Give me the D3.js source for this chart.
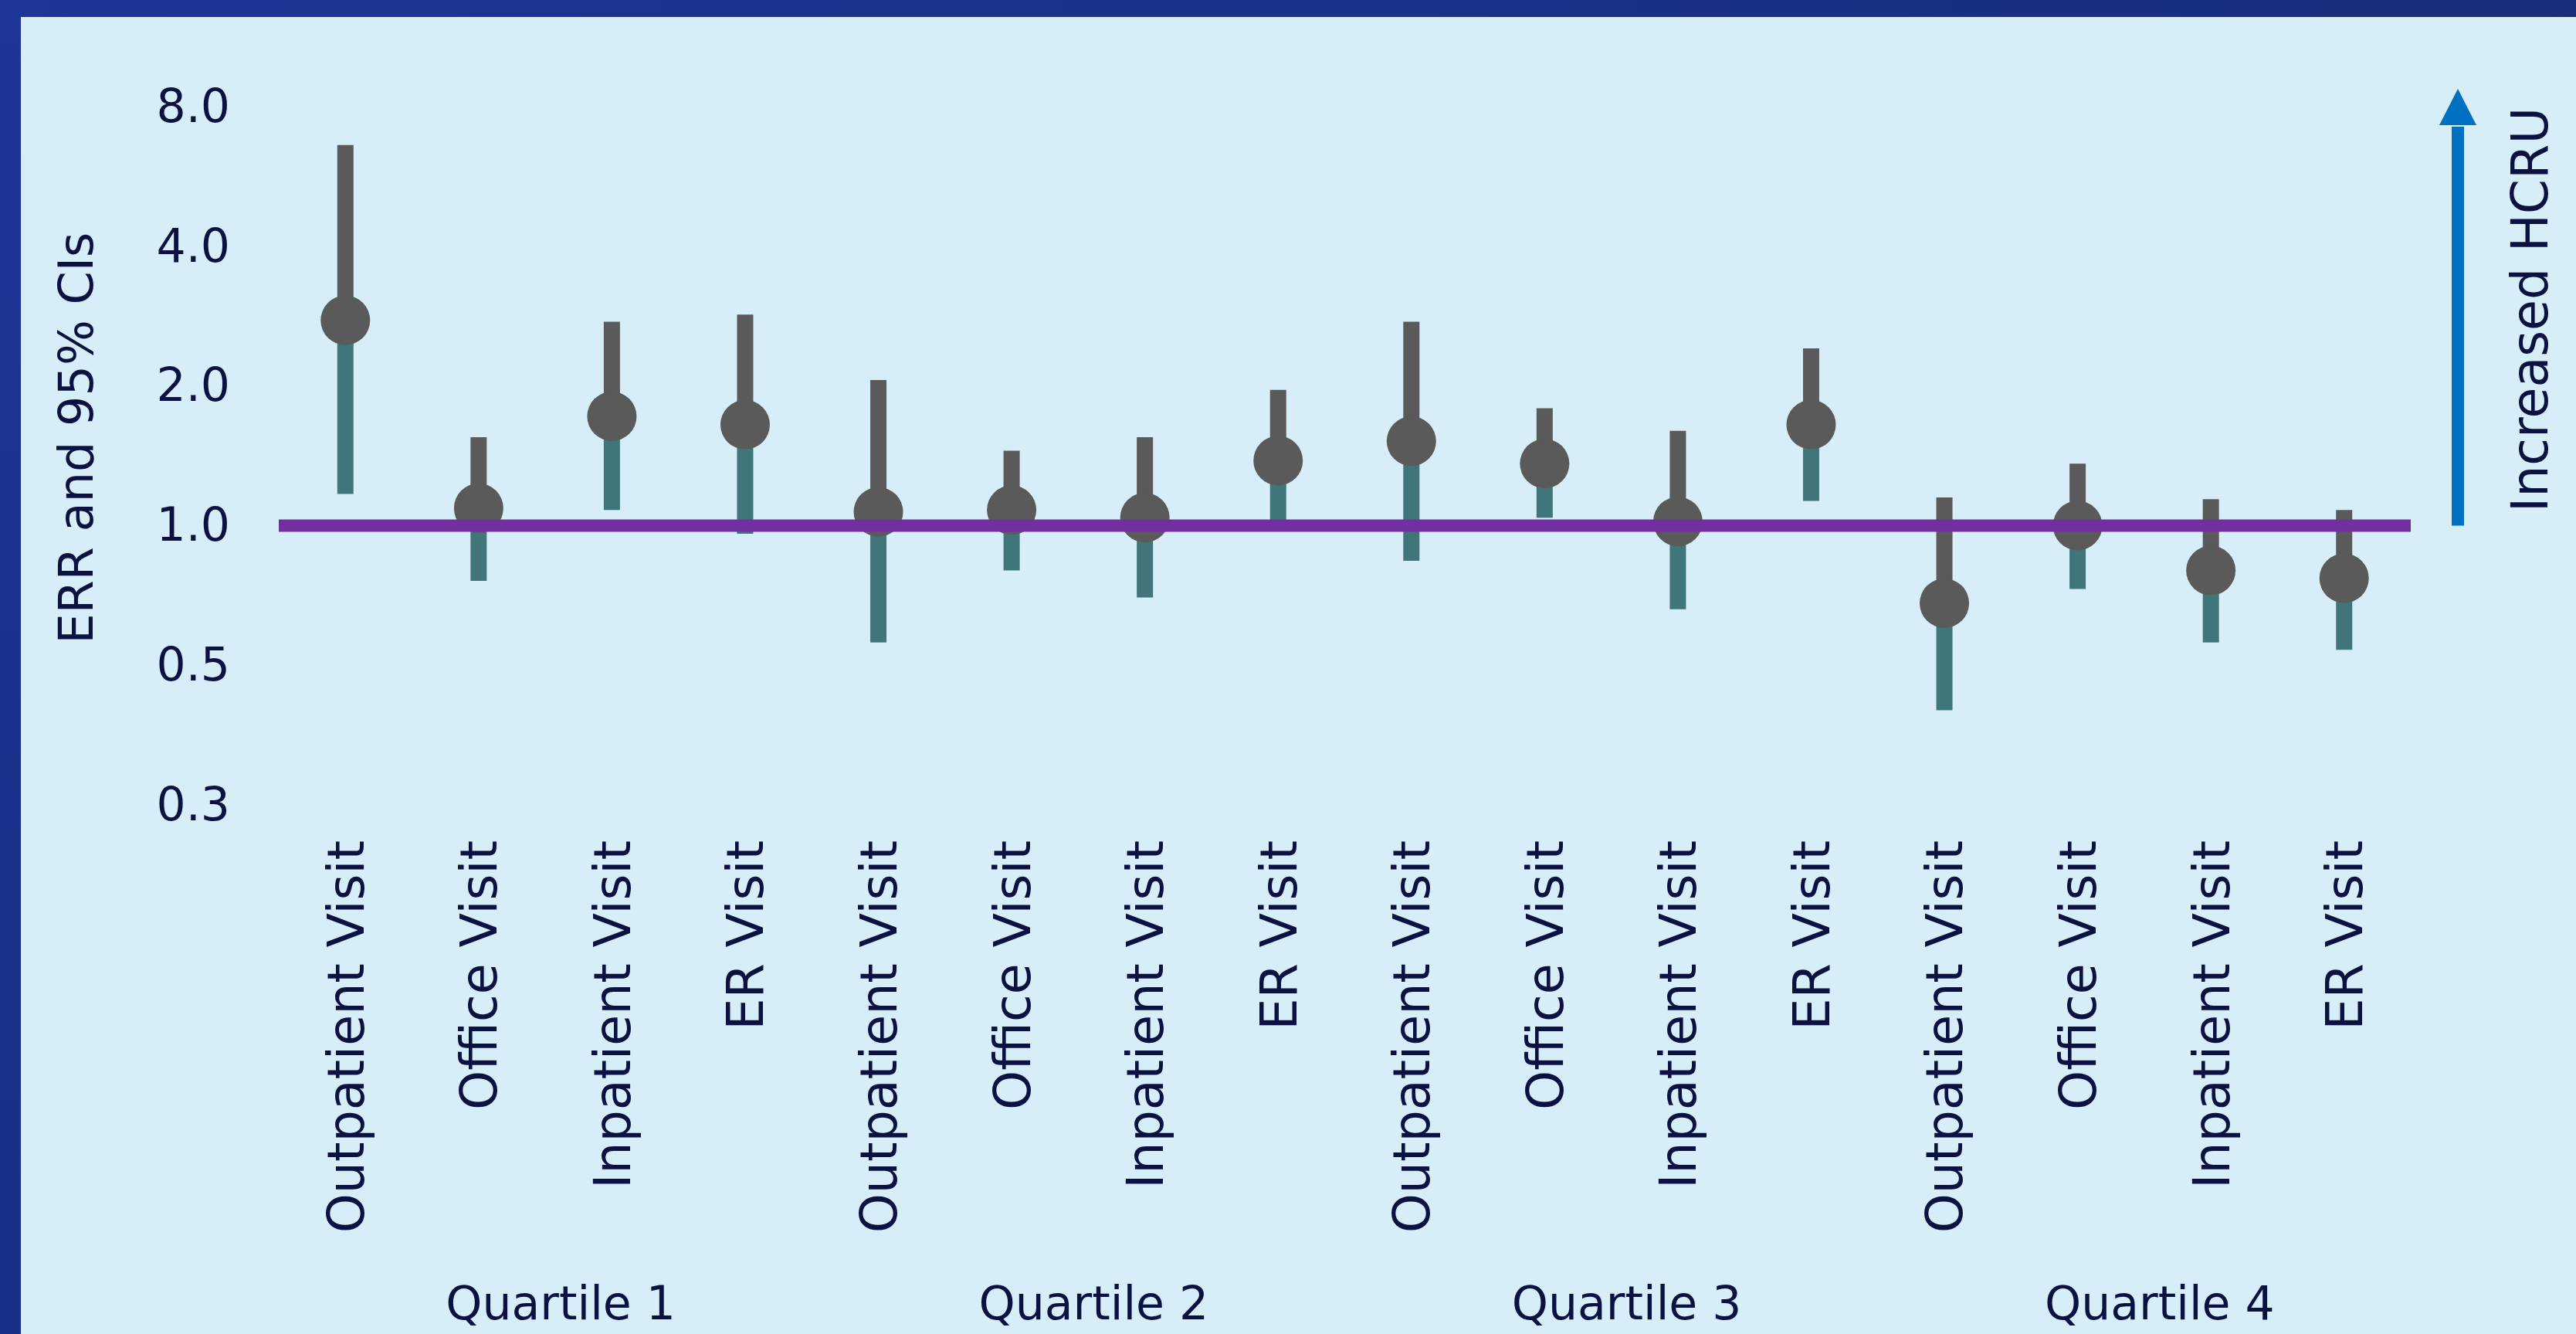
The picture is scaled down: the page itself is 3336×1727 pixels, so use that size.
<!DOCTYPE html>
<html>
<head>
<meta charset="utf-8">
<script src="https://cdn.jsdelivr.net/npm/d3@7"></script>
<style>
  html, body { margin: 0; padding: 0; background: #d7eef8; }
  svg { display: block; }
  text { font-family: "DejaVu Sans", sans-serif; fill: #0b1140; }
</style>
</head>
<body>
<svg id="chart"></svg>
<script>
const WIDTH = 3336;
const HEIGHT = 1727;

// data
const quartiles = ["Quartile 1", "Quartile 2", "Quartile 3", "Quartile 4"];
const visitTypes = ["Outpatient Visit", "Office Visit", "Inpatient Visit", "ER Visit"];
const err   = [2.77, 1.09, 1.72, 1.65, 1.07, 1.08, 1.04, 1.38, 1.52, 1.36, 1.02, 1.65, 0.68, 1.00, 0.80, 0.77];
const lower = [1.17, 0.76, 1.08, 0.96, 0.56, 0.80, 0.70, 1.01, 0.84, 1.04, 0.66, 1.13, 0.40, 0.73, 0.56, 0.54];
const upper = [6.61, 1.55, 2.75, 2.85, 2.06, 1.45, 1.55, 1.96, 2.75, 1.79, 1.60, 2.41, 1.15, 1.36, 1.14, 1.08];
const yTicks = [0.25, 0.5, 1, 2, 4, 8];
const refValue = 1;

const rows = err.map((v, i) => ({
    idx: i,
    quartile: quartiles[Math.floor(i / visitTypes.length)],
    visit: visitTypes[i % visitTypes.length],
    err: v, lo: lower[i], hi: upper[i]
}));

const svg = d3.select("#chart")
    .attr("width", WIDTH)
    .attr("height", HEIGHT);

// frame
const defs = svg.append("defs");
const topGrad = defs.append("linearGradient").attr("id", "topGrad");
topGrad.append("stop").attr("offset", "0%").attr("stop-color", "#1d3697");
topGrad.append("stop").attr("offset", "100%").attr("stop-color", "#172e7b");
const leftGrad = defs.append("linearGradient").attr("id", "leftGrad")
    .attr("x1", 0).attr("y1", 0).attr("x2", 0).attr("y2", 1);
leftGrad.append("stop").attr("offset", "0%").attr("stop-color", "#1d3697");
leftGrad.append("stop").attr("offset", "100%").attr("stop-color", "#172f85");

svg.append("rect").attr("width", WIDTH).attr("height", HEIGHT).attr("fill", "#d7eef8");
svg.append("rect").attr("width", WIDTH).attr("height", 22).attr("fill", "url(#topGrad)");
svg.append("rect").attr("width", 27).attr("height", HEIGHT).attr("fill", "url(#leftGrad)");

// scales
const x = d3.scaleBand()
    .domain(rows.map(d => d.idx))
    .range([361, 3122])
    .padding(0);
const cx = i => x(i) + x.bandwidth() / 2;

const y = d3.scaleLog()
    .base(2)
    .domain([0.25, 8])
    .range([1042, 138]);

// y axis (labels only)
const yAxis = svg.append("g")
    .attr("transform", "translate(308,0)")
    .call(d3.axisLeft(y).tickValues(yTicks).tickFormat(d3.format(".1f")).tickSize(0).tickPadding(10));
yAxis.select(".domain").remove();
yAxis.selectAll("text")
    .style("font-family", "DejaVu Sans, sans-serif")
    .style("font-size", "60px")
    .attr("fill", "#0b1140");

svg.append("text")
    .attr("transform", "translate(120,567) rotate(-90)")
    .attr("text-anchor", "middle")
    .style("font-size", "62px")
    .text("ERR and 95% CIs");

// error bars: lower half teal, upper half grey
const bars = svg.append("g");
bars.selectAll(".lo")
    .data(rows)
    .enter()
    .append("line")
    .attr("class", "lo")
    .attr("x1", d => cx(d.idx)).attr("x2", d => cx(d.idx))
    .attr("y1", d => y(d.err)).attr("y2", d => y(d.lo))
    .attr("stroke", "#40767a")
    .attr("stroke-width", 21);

bars.selectAll(".hi")
    .data(rows)
    .enter()
    .append("line")
    .attr("class", "hi")
    .attr("x1", d => cx(d.idx)).attr("x2", d => cx(d.idx))
    .attr("y1", d => y(d.err)).attr("y2", d => y(d.hi))
    .attr("stroke", "#5a5a5a")
    .attr("stroke-width", 21);

bars.selectAll("circle")
    .data(rows)
    .enter()
    .append("circle")
    .attr("cx", d => cx(d.idx))
    .attr("cy", d => y(d.err))
    .attr("r", 32)
    .attr("fill", "#5a5a5a");

// reference line at 1.0
svg.append("line")
    .attr("x1", x.range()[0]).attr("x2", x.range()[1])
    .attr("y1", y(refValue)).attr("y2", y(refValue))
    .attr("stroke", "#7030a0")
    .attr("stroke-width", 16);

// category labels
svg.append("g").selectAll("text")
    .data(rows)
    .enter()
    .append("text")
    .attr("transform", d => `translate(${cx(d.idx)},1088) rotate(-90)`)
    .attr("text-anchor", "end")
    .attr("dy", "0.36em")
    .style("font-size", "65px")
    .text(d => d.visit);

// quartile labels
svg.append("g").selectAll("text")
    .data(quartiles)
    .enter()
    .append("text")
    .attr("x", (q, qi) => (cx(qi * 4) + cx(qi * 4 + 3)) / 2 + 20)
    .attr("y", 1708)
    .attr("text-anchor", "middle")
    .style("font-size", "60px")
    .text(q => q);

// "Increased HCRU" arrow
const arrowX = 3183;
const arrowTip = 115;
const headBase = 162;
svg.append("line")
    .attr("x1", arrowX).attr("x2", arrowX)
    .attr("y1", y(refValue)).attr("y2", headBase + 2)
    .attr("stroke", "#0070c0")
    .attr("stroke-width", 16);
svg.append("path")
    .attr("d", `M${arrowX - 24},${headBase} L${arrowX},${arrowTip} L${arrowX + 24},${headBase} Z`)
    .attr("fill", "#0070c0");

svg.append("text")
    .attr("transform", "translate(3276,401) rotate(-90)")
    .attr("text-anchor", "middle")
    .attr("dy", "0.36em")
    .style("font-size", "65px")
    .text("Increased HCRU");
</script>
</body>
</html>
